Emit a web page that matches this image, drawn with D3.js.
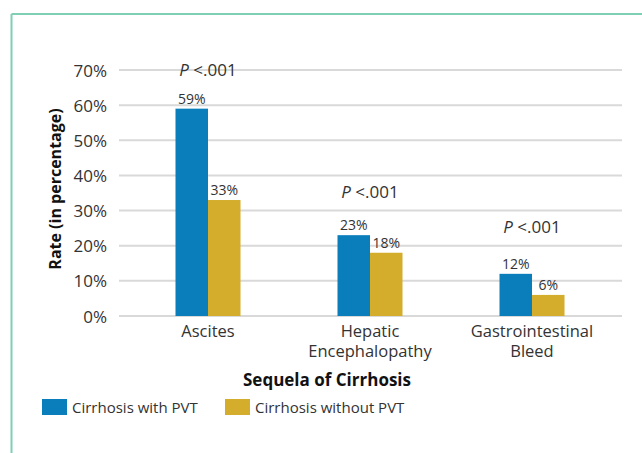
<!DOCTYPE html>
<html>
  <head>
    <meta charset="utf-8">
    <title>Sequela of Cirrhosis</title>
    <script src="https://cdnjs.cloudflare.com/ajax/libs/d3/7.8.5/d3.min.js"></script>
    <style>
      body { margin: 0; background-color: #FFF; }
      svg { display: block; font-family: "Open Sans", sans-serif; }
    </style>
  </head>
  <body>
    <svg width="642" height="453"></svg>
    <script>
      // datos
      var categories = [["Ascites"], ["Hepatic", "Encephalopathy"], ["Gastrointestinal", "Bleed"]];
      var seriesNames = ["Cirrhosis with PVT", "Cirrhosis without PVT"];
      var withPVT = [59, 23, 12];
      var withoutPVT = [33, 18, 6];
      var pValues = ["<.001", "<.001", "<.001"];
      var yTicks = [0, 10, 20, 30, 40, 50, 60, 70];

      var colors = ["#0a7dbb", "#d3ad2b"];
      var pLift = [33, 37, 41]; // distancia del texto P sobre la barra mas alta
      var svg = d3.select("svg");

      // marco
      svg.append("line").attr("x1", 11.5).attr("x2", 642).attr("y1", 14).attr("y2", 14)
        .attr("stroke", "#7fcfb4").attr("stroke-width", 2);
      svg.append("line").attr("x1", 11.5).attr("x2", 11.5).attr("y1", 14).attr("y2", 453)
        .attr("stroke", "#7fcfb4").attr("stroke-width", 2);

      var y = d3.scaleLinear().domain([0, 70]).range([316, 70]);
      var x = d3.scaleBand().domain(d3.range(categories.length)).range([127, 613]);
      var groupW = 65;
      var xs = d3.scaleBand().domain([0, 1]).range([0, groupW]);

      // grid
      svg.append("g").selectAll("line").data(yTicks).enter().append("line")
        .attr("x1", 119).attr("x2", 622)
        .attr("y1", function(d) { return y(d); })
        .attr("y2", function(d) { return y(d); })
        .attr("stroke", "#d9d9d9").attr("stroke-width", 2);

      var yAxis = d3.axisLeft(y).tickValues(yTicks).tickFormat(function(d) { return d + "%"; }).tickSize(0).tickPadding(0);
      var ga = svg.append("g").attr("transform", "translate(107,0)").call(yAxis);
      ga.select(".domain").remove();
      ga.selectAll("text").attr("font-size", 17).attr("fill", "#333").attr("font-family", "'Open Sans', sans-serif")
        .attr("dy", "0.36em");

      var rows = categories.map(function(c, i) {
        return { i: i, vals: [withPVT[i], withoutPVT[i]] };
      });

      var groups = svg.selectAll(".grp").data(rows).enter().append("g")
        .attr("transform", function(d) { return "translate(" + (x(d.i) + x.bandwidth() / 2 - groupW / 2) + ",0)"; });

      groups.selectAll("rect").data(function(d) { return d.vals; }).enter().append("rect")
        .attr("x", function(d, j) { return xs(j); })
        .attr("width", xs.bandwidth())
        .attr("y", function(d) { return y(d); })
        .attr("height", function(d) { return y(0) - y(d); })
        .attr("fill", function(d, j) { return colors[j]; });

      groups.selectAll(".val").data(function(d) { return d.vals; }).enter().append("text")
        .attr("x", function(d, j) { return xs(j) + xs.bandwidth() / 2; })
        .attr("y", function(d) { return y(d) - 5; })
        .attr("text-anchor", "middle").attr("font-size", 14).attr("fill", "#333")
        .text(function(d) { return d + "%"; });

      // P values
      var pText = groups.append("text")
        .attr("x", groupW / 2)
        .attr("y", function(d) { return y(d3.max(d.vals)) - pLift[d.i]; })
        .attr("text-anchor", "middle").attr("font-size", 17).attr("fill", "#333");
      pText.append("tspan").attr("font-style", "italic").text("P");
      pText.append("tspan").text(function(d) { return " " + pValues[d.i]; });

      // etiquetas de categoría (una linea = un texto)
      var lines = [];
      categories.forEach(function(c, i) {
        c.forEach(function(t, k) { lines.push({ t: t, i: i, k: k }); });
      });
      svg.selectAll(".cat").data(lines).enter().append("text")
        .attr("x", function(d) { return x(d.i) + x.bandwidth() / 2; })
        .attr("y", function(d) { return 337 + d.k * 19.5; })
        .attr("text-anchor", "middle").attr("font-size", 16.5).attr("fill", "#333")
        .text(function(d) { return d.t; });

      svg.append("text").attr("x", 327).attr("y", 386).attr("text-anchor", "middle")
        .attr("font-size", 17).attr("font-weight", "bold").attr("fill", "#111").text("Sequela of Cirrhosis");

      svg.append("text").attr("transform", "translate(61,189) rotate(-90)").attr("text-anchor", "middle")
        .attr("font-size", 16).attr("font-weight", "bold").attr("fill", "#111").text("Rate (in percentage)");

      // leyenda
      var legX = [42, 225];
      var leg = svg.selectAll(".leg").data(seriesNames).enter().append("g")
        .attr("transform", function(d, i) { return "translate(" + legX[i] + ",399)"; });
      leg.append("rect").attr("width", 25).attr("height", 16).attr("fill", function(d, i) { return colors[i]; });
      leg.append("text").attr("x", 30).attr("y", 14).attr("font-size", 15).attr("fill", "#333").text(function(d) { return d; });
    </script>
  </body>
</html>
